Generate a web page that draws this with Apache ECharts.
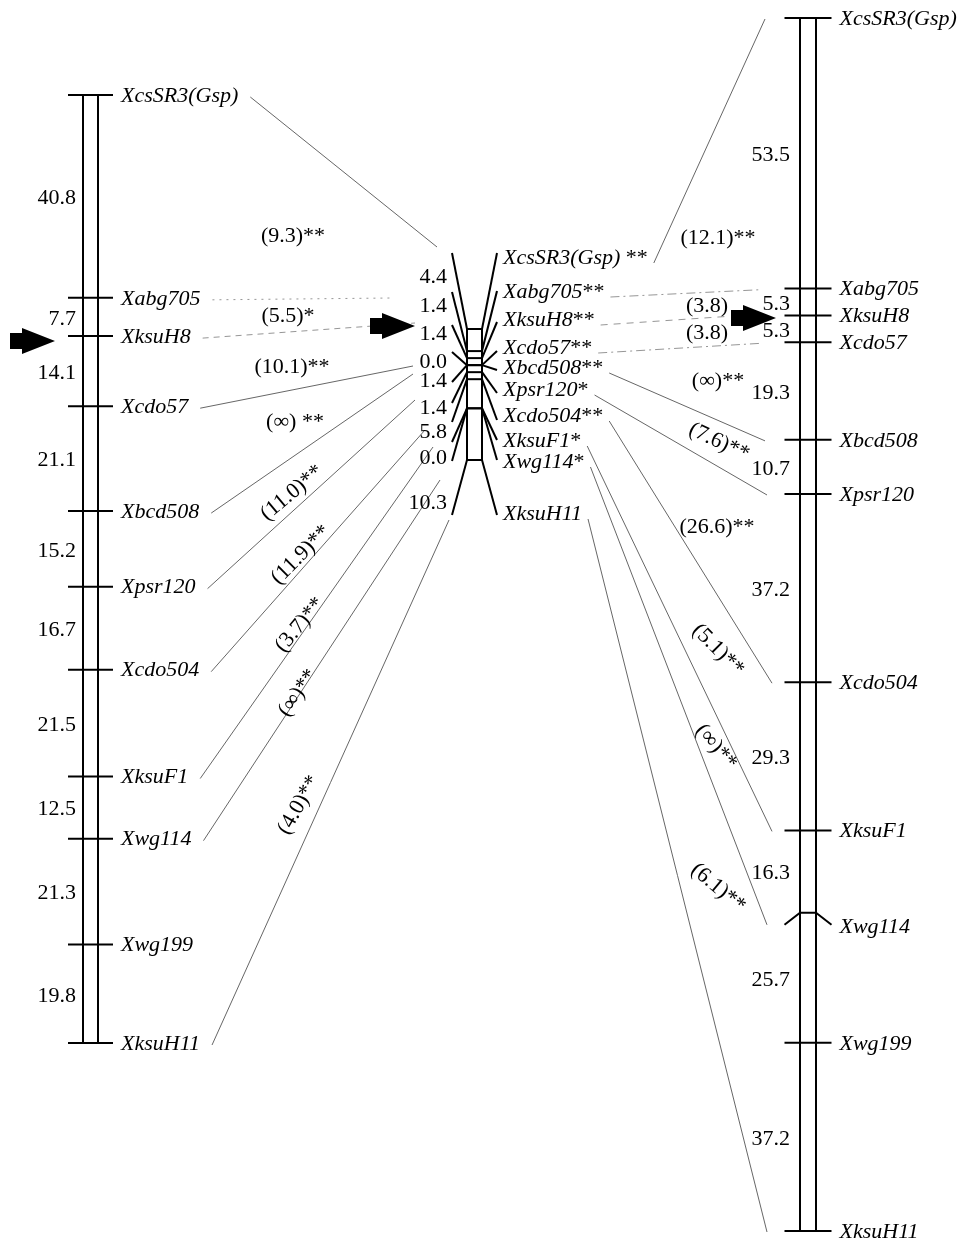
<!DOCTYPE html>
<html>
<head>
<meta charset="utf-8">
<title>Linkage map comparison</title>
<script src="https://cdn.jsdelivr.net/npm/echarts@6.0.0/dist/echarts.min.js"></script>
<style>
  html, body { margin: 0; padding: 0; background: #fff; }
  #chart { width: 969px; height: 1248px; }
</style>
</head>
<body>
<div id="chart"></div>
<script>
// 左侧图谱：标记与相邻标记间距 (cM)
var leftMarkers = ['XcsSR3(Gsp)', 'Xabg705', 'XksuH8', 'Xcdo57', 'Xbcd508', 'Xpsr120', 'Xcdo504', 'XksuF1', 'Xwg114', 'Xwg199', 'XksuH11'];
var leftIntervals = [40.8, 7.7, 14.1, 21.1, 15.2, 16.7, 21.5, 12.5, 21.3, 19.8];

// 中间图谱
var midMarkers = ['XcsSR3(Gsp)', 'Xabg705', 'XksuH8', 'Xcdo57', 'Xbcd508', 'Xpsr120', 'Xcdo504', 'XksuF1', 'Xwg114', 'XksuH11'];
var midStars = [' **', '**', '**', '**', '**', '*', '**', '*', '*', ''];
var midIntervals = [4.4, 1.4, 1.4, 0.0, 1.4, 1.4, 5.8, 0.0, 10.3];

// 右侧图谱
var rightMarkers = ['XcsSR3(Gsp)', 'Xabg705', 'XksuH8', 'Xcdo57', 'Xbcd508', 'Xpsr120', 'Xcdo504', 'XksuF1', 'Xwg114', 'Xwg199', 'XksuH11'];
var rightIntervals = [53.5, 5.3, 5.3, 19.3, 10.7, 37.2, 29.3, 16.3, 25.7, 37.2];

// 连线上的数值
var leftLinkLabels = ['(9.3)**', '(5.5)*', '(10.1)**', '(\u221e) **', '(11.0)**', '(11.9)**', '(3.7)**', '(\u221e)**', '(4.0)**'];
var rightLinkLabels = ['(12.1)**', '(3.8)', '(3.8)', '(\u221e)**', '(7.6)**', '(26.6)**', '(5.1)**', '(\u221e)**', '(6.1)**'];

// ---- 版式 (像素) ----
var W = 969, H = 1248;
var FONT = 'Liberation Serif';
var FS = 22;
var leftMap = { x: 90.5, half: 7.5, tick: 22.5, numGap: 7, top: 95, bottom: 1043 };
var midMap = { x: 474.5, half: 7.5, fan: 22.5, top: 329, bottom: 460 };
var rightMap = { x: 808, half: 8, tick: 23.5, numGap: 10, top: 18, bottom: 1231 };
var fanLeftEnds = [253, 292, 325, 352, 382, 403, 422, 442, 461, 515];
var fanRightEnds = [253, 291, 322, 351, 370, 393, 420, 440, 460, 515];
var midLabelRows = [258, 292, 320, 348, 368, 390, 416, 441, 462, 514];
var midNumRows = [277, 306, 334, 362, 381, 408, 432, 458, 503];
var leftLinkEnds = [[437, 247], [392, 298], [415, 323], [413, 366], [413, 374], [415, 400], [425, 430], [433, 447], [440, 480], [449, 520]];
var rightLinkEndX = [765, 762, 727, 762, 765, 767, 772, 772, 767, 767];
var leftLinkDash = [null, [2, 5], [6, 5], null, null, null, null, null, null, null];
var rightLinkDash = [null, [9, 4, 2, 4], [7, 6], [9, 4, 2, 4], null, null, null, null, null, null];
var leftLabelPos = [[293, 236, 0], [288, 316, 0], [292, 367, 0], [295, 422, 0], [292, 493, 40], [301, 555, 45], [300, 625, 50], [298, 693, 55], [299, 805, 60]];
var rightLabelPos = [[718, 238, 0], [707, 306, 0], [707, 333, 0], [718, 381, 0], [719, 442, -25], [717, 527, 0], [718, 650, -45], [716, 747, -50], [718, 888, -40]];
var arrowTips = [[55, 341], [415, 326], [776, 318]];
var CHEVRON_DROP = 12;

var chart = echarts.init(document.getElementById('chart'));

function cum(intervals) {
  var out = [0];
  intervals.forEach(function (d, i) { out.push(Math.round((out[i] + d) * 10) / 10); });
  return out;
}
var leftPos = cum(leftIntervals);
var midPos = cum(midIntervals);
var rightPos = cum(rightIntervals);

// 每个图谱一根 cM 轴
function cmAxis(total, m) {
  var k = total / (m.bottom - m.top);
  return { type: 'value', inverse: true, show: false, min: -m.top * k, max: (H - m.top) * k };
}

function yPx(axis, v) { return chart.convertToPixel({ yAxisIndex: axis }, v); }
function xPx(v) { return chart.convertToPixel({ xAxisIndex: 0 }, v); }

var measureCtx = document.createElement('canvas').getContext('2d');
function textWidth(str, italic) {
  measureCtx.font = (italic ? 'italic ' : '') + FS + 'px "' + FONT + '"';
  return measureCtx.measureText(str).width;
}

function txt(x, y, text, align, italic) {
  return {
    type: 'text',
    style: {
      x: x, y: y, text: text, fill: '#000',
      fontFamily: FONT, fontSize: FS, fontStyle: italic ? 'italic' : 'normal',
      align: align, verticalAlign: 'middle'
    }
  };
}

function seg(x1, y1, x2, y2, w) {
  return { type: 'line', shape: { x1: x1, y1: y1, x2: x2, y2: y2 }, style: { stroke: '#000', lineWidth: w || 2 } };
}

function mapSeries(axis, m, names, pos, intervals, chevron) {
  return {
    type: 'custom',
    xAxisIndex: 0,
    yAxisIndex: axis,
    silent: true,
    z: 5,
    data: pos.map(function (p) { return [m.x, p]; }),
    renderItem: function (params, api) {
      var i = params.dataIndex;
      var c = api.coord([m.x, pos[i]]);
      var x = c[0], y = c[1];
      var kids = [];
      var labelDy = 1;
      if (i === 0) {
        var yEnd = api.coord([m.x, pos[pos.length - 1]])[1];
        kids.push(seg(x - m.half, y, x - m.half, yEnd));
        kids.push(seg(x + m.half, y, x + m.half, yEnd));
      }
      if (names[i] === chevron) {
        kids.push({
          type: 'polyline',
          shape: { points: [[x - m.tick, y + CHEVRON_DROP], [x - m.half, y], [x + m.half, y], [x + m.tick, y + CHEVRON_DROP]] },
          style: { stroke: '#000', lineWidth: 2, fill: null }
        });
        labelDy = CHEVRON_DROP + 2;
      } else {
        kids.push(seg(x - m.tick, y, x + m.tick, y));
      }
      kids.push(txt(x + m.tick + 8, y + labelDy, names[i], 'left', true));
      if (i > 0) {
        var yPrev = api.coord([m.x, pos[i - 1]])[1];
        kids.push(txt(x - m.half - m.numGap, (yPrev + y) / 2 + 2, intervals[i - 1].toFixed(1), 'right', false));
      }
      return { type: 'group', children: kids };
    }
  };
}

var midSeries = {
  type: 'custom',
  xAxisIndex: 0,
  yAxisIndex: 1,
  silent: true,
  z: 5,
  data: midPos.map(function (p) { return [midMap.x, p]; }),
  renderItem: function (params, api) {
    var i = params.dataIndex;
    var c = api.coord([midMap.x, midPos[i]]);
    var x = c[0], y = c[1];
    var h = midMap.half, f = midMap.fan;
    var kids = [];
    if (i === 0) {
      var yEnd = api.coord([midMap.x, midPos[midPos.length - 1]])[1];
      kids.push({ type: 'rect', shape: { x: x - h, y: y, width: 2 * h, height: yEnd - y }, style: { fill: '#fff', stroke: '#000', lineWidth: 2 } });
    }
    kids.push(seg(x - h, y, x + h, y));
    kids.push(seg(x - h, y, x - f, yPx(3, fanLeftEnds[i])));
    kids.push(seg(x + h, y, x + f, yPx(3, fanRightEnds[i])));
    var rich = '{n|' + midMarkers[i] + '}' + (midStars[i] ? '{s|' + midStars[i] + '}' : '');
    kids.push({
      type: 'text',
      style: {
        x: x + f + 6, y: yPx(3, midLabelRows[i]), text: rich, fill: '#000',
        align: 'left', verticalAlign: 'middle',
        rich: {
          n: { fontFamily: FONT, fontSize: FS, fontStyle: 'italic' },
          s: { fontFamily: FONT, fontSize: FS }
        }
      }
    });
    if (i > 0) {
      kids.push(txt(x - f - 5, yPx(3, midNumRows[i - 1]), midIntervals[i - 1].toFixed(1), 'right', false));
    }
    return { type: 'group', children: kids };
  }
};

function linkStyle(dash) {
  return { stroke: dash ? '#8a8a8a' : '#555', lineWidth: 0.9, lineDash: dash || null };
}

var leftLinks = {
  type: 'custom',
  xAxisIndex: 0,
  yAxisIndex: 0,
  silent: true,
  z: 2,
  data: midMarkers.map(function (n) { return [leftMap.x, leftPos[leftMarkers.indexOf(n)]]; }),
  renderItem: function (params, api) {
    var i = params.dataIndex;
    var j = leftMarkers.indexOf(midMarkers[i]);
    var c = api.coord([leftMap.x, leftPos[j]]);
    var x1 = c[0] + leftMap.tick + 8 + textWidth(leftMarkers[j], true) + 12;
    var y1 = c[1] + 2;
    var x2 = xPx(leftLinkEnds[i][0]), y2 = yPx(3, leftLinkEnds[i][1]);
    return { type: 'line', shape: { x1: x1, y1: y1, x2: x2, y2: y2 }, style: linkStyle(leftLinkDash[i]) };
  }
};

var rightLinks = {
  type: 'custom',
  xAxisIndex: 0,
  yAxisIndex: 2,
  silent: true,
  z: 2,
  data: midMarkers.map(function (n) { return [rightMap.x, rightPos[rightMarkers.indexOf(n)]]; }),
  renderItem: function (params, api) {
    var i = params.dataIndex;
    var j = rightMarkers.indexOf(midMarkers[i]);
    var c = api.coord([rightMap.x, rightPos[j]]);
    var labelW = textWidth(midMarkers[i], true) + textWidth(midStars[i], false);
    var x1 = midMap.x + midMap.fan + 6 + labelW + 6;
    var y1 = yPx(3, midLabelRows[i]) + 5;
    var x2 = xPx(rightLinkEndX[i]);
    var y2 = c[1] + (midMarkers[i] === 'Xwg114' ? CHEVRON_DROP : 1);
    return { type: 'line', shape: { x1: x1, y1: y1, x2: x2, y2: y2 }, style: linkStyle(rightLinkDash[i]) };
  }
};

function labelSeries(labels, pos) {
  return {
    type: 'custom',
    xAxisIndex: 0,
    yAxisIndex: 3,
    silent: true,
    z: 4,
    data: pos.map(function (p) { return [p[0], p[1]]; }),
    renderItem: function (params, api) {
      var i = params.dataIndex;
      var c = api.coord([api.value(0), api.value(1)]);
      return {
        type: 'text',
        x: c[0], y: c[1],
        rotation: pos[i][2] * Math.PI / 180,
        style: {
          x: 0, y: 0, text: labels[i], fill: '#000',
          fontFamily: FONT, fontSize: FS,
          align: 'center', verticalAlign: 'middle'
        }
      };
    }
  };
}

var arrowSeries = {
  type: 'custom',
  xAxisIndex: 0,
  yAxisIndex: 3,
  silent: true,
  z: 6,
  data: arrowTips,
  renderItem: function (params, api) {
    var c = api.coord([api.value(0), api.value(1)]);
    var x = c[0], y = c[1];
    return {
      type: 'polygon',
      shape: {
        points: [[x, y], [x - 33, y - 13], [x - 33, y - 8], [x - 45, y - 8], [x - 45, y + 8], [x - 33, y + 8], [x - 33, y + 13]]
      },
      style: { fill: '#000' }
    };
  }
};

var option = {
  animation: false,
  backgroundColor: '#fff',
  grid: { left: 0, right: 0, top: 0, bottom: 0 },
  xAxis: { type: 'value', min: 0, max: W, show: false },
  yAxis: [
    cmAxis(leftPos[leftPos.length - 1], leftMap),
    cmAxis(midPos[midPos.length - 1], midMap),
    cmAxis(rightPos[rightPos.length - 1], rightMap),
    { type: 'value', inverse: true, show: false, min: 0, max: H }
  ],
  series: [
    leftLinks,
    rightLinks,
    labelSeries(leftLinkLabels, leftLabelPos),
    labelSeries(rightLinkLabels, rightLabelPos),
    mapSeries(0, leftMap, leftMarkers, leftPos, leftIntervals, null),
    midSeries,
    mapSeries(2, rightMap, rightMarkers, rightPos, rightIntervals, 'Xwg114'),
    arrowSeries
  ]
};

chart.setOption(option);
</script>
</body>
</html>
